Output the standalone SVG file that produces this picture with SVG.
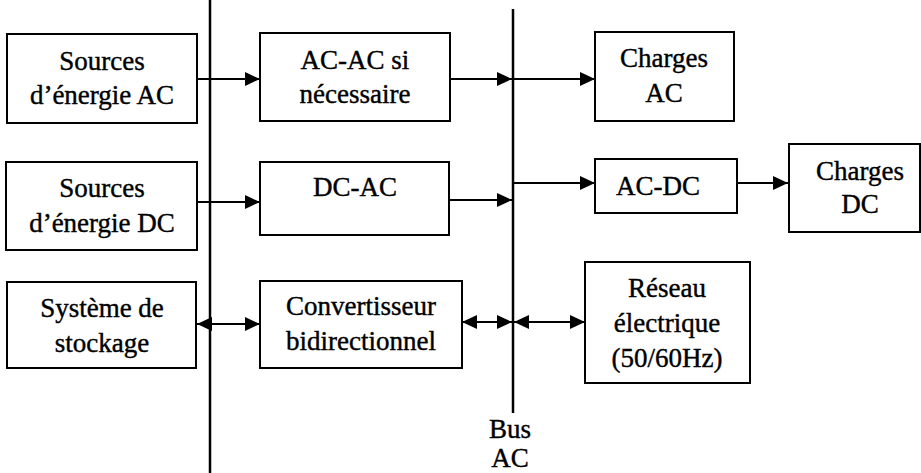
<svg xmlns="http://www.w3.org/2000/svg" width="921" height="473" viewBox="0 0 921 473">
<defs>
<marker id="ah" markerUnits="userSpaceOnUse" markerWidth="15" markerHeight="14" refX="15" refY="7" orient="auto-start-reverse">
<path d="M0,0 L15,7 L0,14 z" fill="#000"/>
</marker>
</defs>
<style>
rect{fill:#fff;stroke:#000;stroke-width:2}
text{font-family:"Liberation Serif","Times New Roman",serif;font-size:27px;fill:#000;stroke:#000;stroke-width:0.4;text-anchor:middle}
.c line{stroke:#000;stroke-width:2}
.bus{stroke:#000;stroke-width:2.5}
</style>
<line class="bus" x1="210" y1="0" x2="210" y2="473"/>
<line class="bus" x1="513" y1="9" x2="513" y2="413"/>
<g class="c" id="connectors">
<line x1="197" y1="79" x2="260" y2="79" marker-end="url(#ah)"/>
<line x1="450" y1="79" x2="512" y2="79" marker-end="url(#ah)"/>
<line x1="513" y1="79" x2="595" y2="79" marker-end="url(#ah)"/>
<line x1="197" y1="202" x2="260" y2="202" marker-end="url(#ah)"/>
<line x1="449" y1="200" x2="512" y2="200" marker-end="url(#ah)"/>
<line x1="513" y1="183" x2="595" y2="183" marker-end="url(#ah)"/>
<line x1="737" y1="183" x2="788" y2="183" marker-end="url(#ah)"/>
<line x1="197" y1="324" x2="260" y2="324" marker-start="url(#ah)" marker-end="url(#ah)"/>
<line x1="462" y1="322" x2="512" y2="322" marker-start="url(#ah)" marker-end="url(#ah)"/>
<line x1="514" y1="322" x2="585" y2="322" marker-start="url(#ah)" marker-end="url(#ah)"/>
</g>
<g id="src-ac"><rect x="7" y="34" width="190" height="89"/><text x="102" y="70">Sources</text><text x="102" y="104">d’énergie AC</text></g>
<g id="acac"><rect x="260" y="33" width="190" height="88"/><text x="355" y="69">AC-AC si</text><text x="355" y="103">nécessaire</text></g>
<g id="charges-ac"><rect x="595" y="32" width="139" height="89"/><text x="664" y="67">Charges</text><text x="664" y="102">AC</text></g>
<g id="src-dc"><rect x="6" y="162" width="191" height="88"/><text x="102" y="197">Sources</text><text x="102" y="232">d’énergie DC</text></g>
<g id="dcac"><rect x="260" y="162" width="189" height="73"/><text x="355" y="196">DC-AC</text></g>
<g id="acdc"><rect x="595" y="159" width="142" height="54"/><text x="658" y="195">AC-DC</text></g>
<g id="charges-dc"><rect x="789" y="144" width="131" height="88"/><text x="860" y="180">Charges</text><text x="860" y="213">DC</text></g>
<g id="stockage"><rect x="7" y="282" width="189" height="86"/><text x="102" y="317">Système de</text><text x="102" y="352">stockage</text></g>
<g id="conv"><rect x="260" y="281" width="202" height="87"/><text x="361" y="315">Convertisseur</text><text x="361" y="350">bidirectionnel</text></g>
<g id="reseau"><rect x="585" y="262" width="165" height="121"/><text x="667" y="297">Réseau</text><text x="667" y="332">électrique</text><text x="667" y="367">(50/60Hz)</text></g>
<g id="bus-label"><text x="510" y="438">Bus</text><text x="510" y="467">AC</text></g>
</svg>
